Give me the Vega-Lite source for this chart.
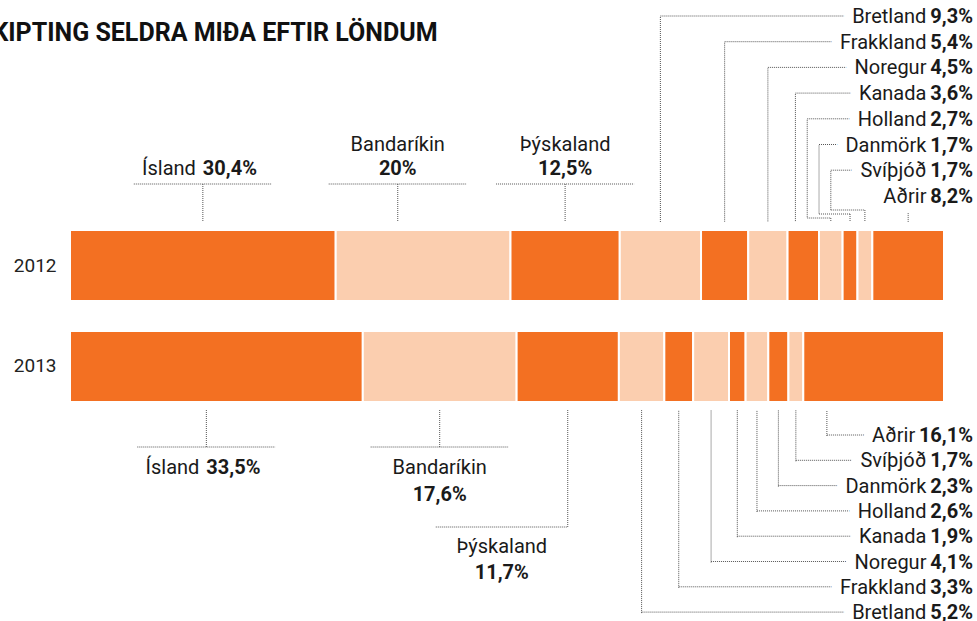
{
  "$schema": "https://vega.github.io/schema/vega-lite/v6.json",
  "width": 977,
  "height": 621,
  "autosize": "none",
  "padding": 0,
  "background": "white",
  "title": {"text": "SKIPTING SELDRA MIÐA EFTIR LÖNDUM", "anchor": "start", "frame": "group", "orient": "top", "offset": -66, "baseline": "alphabetic", "dx": -23, "font": "Roboto", "fontSize": 25, "fontWeight": "bold", "color": "#111111"},
  "config": {"view": {"stroke": null}, "text": {"font": "Roboto"}},
  "data": {"values": [
    {"year": "2012", "country": "Ísland", "pct": 30.4, "order": 1},
    {"year": "2012", "country": "Bandaríkin", "pct": 20, "order": 2},
    {"year": "2012", "country": "Þýskaland", "pct": 12.5, "order": 3},
    {"year": "2012", "country": "Bretland", "pct": 9.3, "order": 4},
    {"year": "2012", "country": "Frakkland", "pct": 5.4, "order": 5},
    {"year": "2012", "country": "Noregur", "pct": 4.5, "order": 6},
    {"year": "2012", "country": "Kanada", "pct": 3.6, "order": 7},
    {"year": "2012", "country": "Holland", "pct": 2.7, "order": 8},
    {"year": "2012", "country": "Danmörk", "pct": 1.7, "order": 9},
    {"year": "2012", "country": "Svíþjóð", "pct": 1.7, "order": 10},
    {"year": "2012", "country": "Aðrir", "pct": 8.2, "order": 11},
    {"year": "2013", "country": "Ísland", "pct": 33.5, "order": 1},
    {"year": "2013", "country": "Bandaríkin", "pct": 17.6, "order": 2},
    {"year": "2013", "country": "Þýskaland", "pct": 11.7, "order": 3},
    {"year": "2013", "country": "Bretland", "pct": 5.2, "order": 4},
    {"year": "2013", "country": "Frakkland", "pct": 3.3, "order": 5},
    {"year": "2013", "country": "Noregur", "pct": 4.1, "order": 6},
    {"year": "2013", "country": "Kanada", "pct": 1.9, "order": 7},
    {"year": "2013", "country": "Holland", "pct": 2.6, "order": 8},
    {"year": "2013", "country": "Danmörk", "pct": 2.3, "order": 9},
    {"year": "2013", "country": "Svíþjóð", "pct": 1.7, "order": 10},
    {"year": "2013", "country": "Aðrir", "pct": 16.1, "order": 11}
  ]},
  "transform": [
    {"stack": "pct", "groupby": ["year"], "sort": [{"field": "order", "order": "ascending"}], "as": ["x0", "x1"]},
    {"joinaggregate": [{"op": "sum", "field": "pct", "as": "total"}], "groupby": ["year"]},
    {"calculate": "(datum.x0 + datum.x1) / 2", "as": "mid"},
    {"calculate": "datum.year == '2012' && datum.order == 2 ? datum.mid - 2.9 : (datum.year == '2013' && datum.order == 1 ? datum.mid - 1.15 : datum.mid)", "as": "bigX"},
    {"calculate": "replace(format(datum.pct, '.3~r'), '.', ',') + '%'", "as": "pctLabel"},
    {"calculate": "datum.order >= 4", "as": "isRight"},
    {"calculate": "datum.year == '2012' ? 222 : 410", "as": "barEdge"},
    {"calculate": "datum.total + 3.32", "as": "labelRight"},
    {"calculate": "datum.year == '2012' ? 17 + (datum.order - 4) * 25.7 : 436 + (11 - datum.order) * 25.3", "as": "rowY"},
    {"calculate": "datum.year == '2012' && datum.order >= 7 && datum.order <= 10 ? 83 + (datum.order - 7) * 1.35 : (datum.year == '2013' && datum.order == 11 ? datum.x0 + 2.7 : datum.mid)", "as": "ux"},
    {"calculate": "datum.isRight && (datum.ux < datum.x0 || datum.ux > datum.x1)", "as": "jog"},
    {"calculate": "datum.jog ? datum.mid : datum.ux", "as": "lowX"},
    {"calculate": "datum.jog ? 218 - (datum.order - 8) * 4 : datum.barEdge", "as": "jogY"},
    {"calculate": "datum.year == '2012' ? 184 : (datum.order == 3 ? 527 : 447)", "as": "lineY"},
    {"calculate": "datum.year == '2013' && datum.order == 3 ? datum.bigX - 15.1 : datum.bigX - 7.9", "as": "bx1"},
    {"calculate": "datum.year == '2013' && datum.order == 3 ? datum.bigX : datum.bigX + 7.9", "as": "bx2"},
    {"calculate": "(datum.bx1 + datum.bx2) / 2", "as": "cx"},
    {"calculate": "datum.isRight ? datum.ux : datum.bigX", "as": "vx"},
    {"calculate": "datum.isRight ? datum.rowY : datum.lineY", "as": "vy1"},
    {"calculate": "datum.isRight ? datum.jogY : datum.barEdge", "as": "vy2"},
    {"calculate": "datum.isRight ? datum.ux : datum.bx1", "as": "hx1"},
    {"calculate": "datum.isRight ? datum.labelRight : datum.bx2", "as": "hx2"},
    {"calculate": "datum.isRight ? datum.rowY - 1 : datum.lineY", "as": "hy"},
    {"calculate": "datum.isRight ? datum.labelRight - (length(datum.pctLabel) * 11.2 + 1.8) / 8.74 : (datum.order == 1 ? datum.bigX - 0.8 : datum.cx)", "as": "nameX"},
    {"calculate": "datum.isRight ? datum.rowY : (datum.order == 1 ? (datum.year == '2012' ? 169 : 468) : (datum.year == '2012' ? 145 : (datum.order == 3 ? 547 : 468)))", "as": "nameY"},
    {"calculate": "datum.isRight ? datum.labelRight : (datum.order == 1 ? datum.bigX : datum.cx)", "as": "pctX"},
    {"calculate": "datum.isRight ? datum.rowY : (datum.order == 1 ? datum.nameY : (datum.year == '2012' ? 169 : (datum.order == 3 ? 573 : 495)))", "as": "pctY"}
  ],
  "layer": [
    {
      "mark": {"type": "bar", "stroke": "white", "strokeWidth": 2},
      "encoding": {
        "x": {"field": "x0", "type": "quantitative", "scale": {"domain": [0, 100], "range": [70, 944], "nice": false, "zero": false}, "axis": null},
        "x2": {"field": "x1"},
        "y": {"field": "year", "type": "nominal", "scale": {"domain": ["2012", "2013"], "range": [230, 402], "paddingInner": 0.297, "paddingOuter": 0},
              "axis": {"title": null, "domain": false, "ticks": false, "labelPadding": 4, "offset": -60, "labelFont": "Roboto", "labelFontSize": 19, "labelColor": "#222222"}},
        "color": {"field": "country", "type": "nominal", "legend": null,
                  "scale": {"domain": ["Ísland", "Bandaríkin", "Þýskaland", "Bretland", "Frakkland", "Noregur", "Kanada", "Holland", "Danmörk", "Svíþjóð", "Aðrir"],
                            "range": ["#F37022", "#FBCEAF", "#F37022", "#FBCEAF", "#F37022", "#FBCEAF", "#F37022", "#FBCEAF", "#F37022", "#FBCEAF", "#F37022"]}}
      }
    },
    {
      "mark": {"type": "rule", "stroke": "#555555", "strokeWidth": 1, "strokeDash": [1, 1]},
      "encoding": {
        "x": {"field": "vx", "type": "quantitative"},
        "y": {"field": "vy1", "type": "quantitative", "scale": {"domain": [0, 621], "range": [0, 621], "nice": false, "zero": false}, "axis": null},
        "y2": {"field": "vy2"}
      }
    },
    {
      "mark": {"type": "rule", "stroke": "#555555", "strokeWidth": 1, "strokeDash": [1, 1]},
      "encoding": {
        "x": {"field": "hx1", "type": "quantitative"},
        "x2": {"field": "hx2"},
        "y": {"field": "hy", "type": "quantitative", "scale": {"domain": [0, 621], "range": [0, 621], "nice": false, "zero": false}, "axis": null}
      }
    },
    {
      "transform": [{"filter": "datum.jog"}],
      "mark": {"type": "rule", "stroke": "#555555", "strokeWidth": 1, "strokeDash": [1, 1]},
      "encoding": {
        "x": {"field": "ux", "type": "quantitative"},
        "x2": {"field": "lowX"},
        "y": {"field": "jogY", "type": "quantitative", "scale": {"domain": [0, 621], "range": [0, 621], "nice": false, "zero": false}, "axis": null}
      }
    },
    {
      "transform": [{"filter": "datum.jog"}],
      "mark": {"type": "rule", "stroke": "#555555", "strokeWidth": 1, "strokeDash": [1, 1]},
      "encoding": {
        "x": {"field": "lowX", "type": "quantitative"},
        "y": {"field": "jogY", "type": "quantitative", "scale": {"domain": [0, 621], "range": [0, 621], "nice": false, "zero": false}, "axis": null},
        "y2": {"field": "barEdge"}
      }
    },
    {
      "transform": [{"filter": "datum.isRight"}],
      "mark": {"type": "text", "align": "right", "baseline": "middle", "fontSize": 20, "fill": "white", "stroke": "white", "strokeWidth": 20, "strokeJoin": "round"},
      "encoding": {
        "x": {"field": "nameX", "type": "quantitative"},
        "y": {"field": "nameY", "type": "quantitative", "scale": {"domain": [0, 621], "range": [0, 621], "nice": false, "zero": false}, "axis": null},
        "text": {"field": "country"}
      }
    },
    {
      "transform": [{"filter": "datum.isRight"}],
      "mark": {"type": "text", "align": "right", "baseline": "middle", "fontSize": 20, "fontWeight": "bold", "fill": "white", "stroke": "white", "strokeWidth": 20, "strokeJoin": "round"},
      "encoding": {
        "x": {"field": "pctX", "type": "quantitative"},
        "y": {"field": "pctY", "type": "quantitative", "scale": {"domain": [0, 621], "range": [0, 621], "nice": false, "zero": false}, "axis": null},
        "text": {"field": "pctLabel"}
      }
    },
    {
      "transform": [{"filter": "datum.isRight || datum.order == 1"}],
      "mark": {"type": "text", "align": "right", "baseline": "middle", "fontSize": 20, "fill": "#1a1a1a"},
      "encoding": {
        "x": {"field": "nameX", "type": "quantitative"},
        "y": {"field": "nameY", "type": "quantitative", "scale": {"domain": [0, 621], "range": [0, 621], "nice": false, "zero": false}, "axis": null},
        "text": {"field": "country"}
      }
    },
    {
      "transform": [{"filter": "datum.order == 2 || datum.order == 3"}],
      "mark": {"type": "text", "align": "center", "baseline": "middle", "fontSize": 20, "fill": "#1a1a1a"},
      "encoding": {
        "x": {"field": "nameX", "type": "quantitative"},
        "y": {"field": "nameY", "type": "quantitative", "scale": {"domain": [0, 621], "range": [0, 621], "nice": false, "zero": false}, "axis": null},
        "text": {"field": "country"}
      }
    },
    {
      "transform": [{"filter": "datum.isRight"}],
      "mark": {"type": "text", "align": "right", "baseline": "middle", "fontSize": 20, "fontWeight": "bold", "fill": "#1a1a1a"},
      "encoding": {
        "x": {"field": "pctX", "type": "quantitative"},
        "y": {"field": "pctY", "type": "quantitative", "scale": {"domain": [0, 621], "range": [0, 621], "nice": false, "zero": false}, "axis": null},
        "text": {"field": "pctLabel"}
      }
    },
    {
      "transform": [{"filter": "datum.order == 1"}],
      "mark": {"type": "text", "align": "left", "baseline": "middle", "fontSize": 20, "fontWeight": "bold", "fill": "#1a1a1a"},
      "encoding": {
        "x": {"field": "pctX", "type": "quantitative"},
        "y": {"field": "pctY", "type": "quantitative", "scale": {"domain": [0, 621], "range": [0, 621], "nice": false, "zero": false}, "axis": null},
        "text": {"field": "pctLabel"}
      }
    },
    {
      "transform": [{"filter": "datum.order == 2 || datum.order == 3"}],
      "mark": {"type": "text", "align": "center", "baseline": "middle", "fontSize": 20, "fontWeight": "bold", "fill": "#1a1a1a"},
      "encoding": {
        "x": {"field": "pctX", "type": "quantitative"},
        "y": {"field": "pctY", "type": "quantitative", "scale": {"domain": [0, 621], "range": [0, 621], "nice": false, "zero": false}, "axis": null},
        "text": {"field": "pctLabel"}
      }
    }
  ],
  "resolve": {"scale": {"y": "independent"}, "axis": {"y": "independent"}}
}
